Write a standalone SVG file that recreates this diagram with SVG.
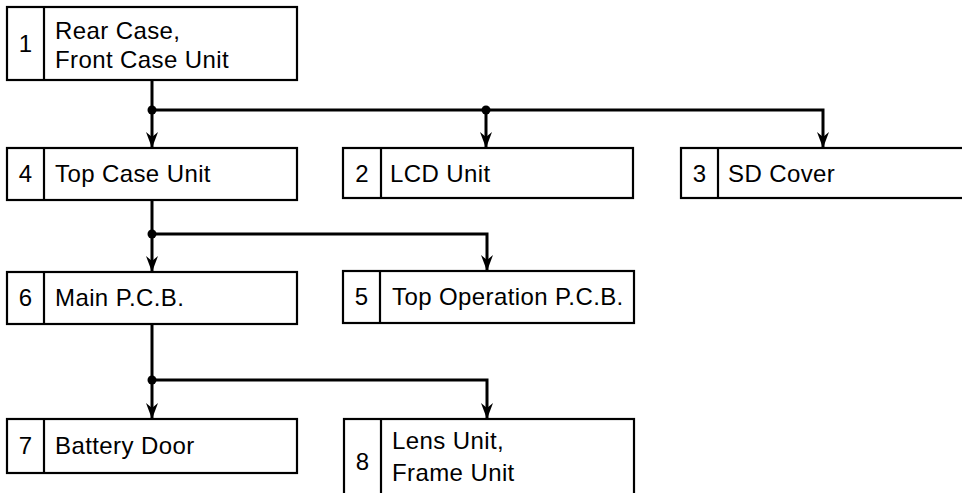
<svg xmlns="http://www.w3.org/2000/svg" width="962" height="493" viewBox="0 0 962 493">
  <style>
    .box { fill: #fff; stroke: #000; stroke-width: 2.2; }
    .div { stroke: #000; stroke-width: 2.2; }
    .t { font-family: "Liberation Sans", Arial, sans-serif; font-size: 24px; letter-spacing: 0.4px; fill: #000; }
    .n { font-family: "Liberation Sans", Arial, sans-serif; font-size: 24px; fill: #000; text-anchor: middle; }
    .c { fill: none; stroke: #000; stroke-width: 3; }
    .dot { fill: #000; }
  </style>
  <defs>
    <marker id="arr" markerUnits="userSpaceOnUse" markerWidth="20" markerHeight="16" viewBox="-16 -8 18 16" refX="0" refY="0" orient="auto">
      <path d="M0,0 L-16,-6 L-11,0 L-16,6 Z" fill="#000"/>
    </marker>
  </defs>
  <rect width="962" height="493" fill="#fff"/>

  <g id="connectors">
    <path class="c" d="M152,80 V148" marker-end="url(#arr)"/>
    <path class="c" d="M152,110 H823 V148" marker-end="url(#arr)"/>
    <path class="c" d="M486,110 V148" marker-end="url(#arr)"/>
    <path class="c" d="M152,200 V272" marker-end="url(#arr)"/>
    <path class="c" d="M152,234 H487 V271" marker-end="url(#arr)"/>
    <path class="c" d="M152,324 V419" marker-end="url(#arr)"/>
    <path class="c" d="M152,380 H487 V419" marker-end="url(#arr)"/>
    <circle class="dot" cx="152" cy="110" r="4.5"/>
    <circle class="dot" cx="486" cy="110" r="4.5"/>
    <circle class="dot" cx="152" cy="234" r="4.5"/>
    <circle class="dot" cx="152" cy="380" r="4.5"/>
  </g>

  <g id="node1">
    <rect class="box" x="7" y="7" width="290" height="73"/>
    <line class="div" x1="44" y1="7" x2="44" y2="80"/>
    <text class="n" x="25.5" y="52">1</text>
    <text class="t" x="55" y="39">Rear Case,</text>
    <text class="t" x="55" y="68">Front Case Unit</text>
  </g>

  <g id="node4">
    <rect class="box" x="7" y="148" width="290" height="52"/>
    <line class="div" x1="44" y1="148" x2="44" y2="200"/>
    <text class="n" x="25.5" y="182">4</text>
    <text class="t" x="55" y="182">Top Case Unit</text>
  </g>

  <g id="node2">
    <rect class="box" x="343" y="148" width="290" height="50"/>
    <line class="div" x1="381" y1="148" x2="381" y2="198"/>
    <text class="n" x="362" y="182">2</text>
    <text class="t" x="390" y="182">LCD Unit</text>
  </g>

  <g id="node3">
    <rect class="box" x="681" y="148" width="300" height="50"/>
    <line class="div" x1="718" y1="148" x2="718" y2="198"/>
    <text class="n" x="699.5" y="182">3</text>
    <text class="t" x="728" y="182">SD Cover</text>
  </g>

  <g id="node6">
    <rect class="box" x="7" y="272" width="290" height="52"/>
    <line class="div" x1="44" y1="272" x2="44" y2="324"/>
    <text class="n" x="25.5" y="306">6</text>
    <text class="t" x="55" y="306">Main P.C.B.</text>
  </g>

  <g id="node5">
    <rect class="box" x="343" y="271" width="291" height="52"/>
    <line class="div" x1="380" y1="271" x2="380" y2="323"/>
    <text class="n" x="361.5" y="305">5</text>
    <text class="t" x="392" y="305">Top Operation P.C.B.</text>
  </g>

  <g id="node7">
    <rect class="box" x="7" y="419" width="290" height="54"/>
    <line class="div" x1="44" y1="419" x2="44" y2="473"/>
    <text class="n" x="25.5" y="454">7</text>
    <text class="t" x="55" y="454">Battery Door</text>
  </g>

  <g id="node8">
    <rect class="box" x="344" y="419" width="290" height="90"/>
    <line class="div" x1="381" y1="419" x2="381" y2="509"/>
    <text class="n" x="362.5" y="470">8</text>
    <text class="t" x="392" y="449">Lens Unit,</text>
    <text class="t" x="392" y="481">Frame Unit</text>
  </g>
</svg>
